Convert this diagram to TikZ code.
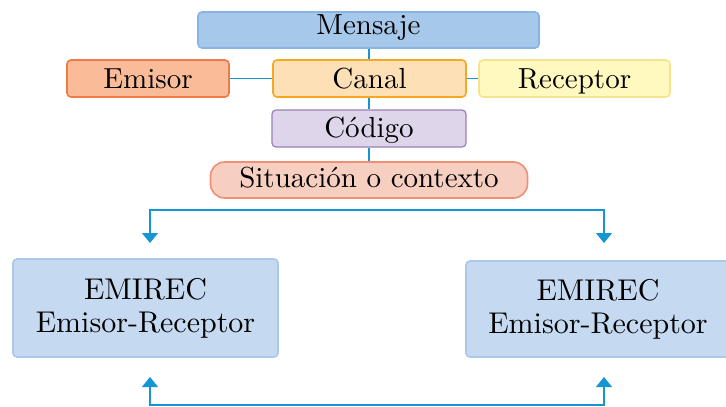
\documentclass[tikz,border=0pt]{standalone}
\usepackage{fontspec}
\setmainfont{lmroman10-regular.otf}
\usetikzlibrary{arrows.meta}
\definecolor{linec}{RGB}{20,150,210}
\definecolor{mensF}{RGB}{166,201,235}\definecolor{mensD}{RGB}{135,180,226}
\definecolor{emiF}{RGB}{249,187,152}\definecolor{emiD}{RGB}{238,122,72}
\definecolor{canF}{RGB}{253,224,182}\definecolor{canD}{RGB}{247,168,32}
\definecolor{recF}{RGB}{255,249,192}\definecolor{recD}{RGB}{244,228,142}
\definecolor{codF}{RGB}{222,213,235}\definecolor{codD}{RGB}{152,127,182}
\definecolor{sitF}{RGB}{246,207,192}\definecolor{sitD}{RGB}{240,142,122}
\definecolor{emrF}{RGB}{197,218,241}\definecolor{emrD}{RGB}{170,200,233}
\begin{document}
\begin{tikzpicture}[x=1pt,y=-1pt,
  box/.style={rectangle,rounded corners=4pt,line width=1.6pt,inner sep=0pt,
    font=\fontsize{29}{31}\selectfont,text depth=7pt},
  big/.style={box,align=center,text height=,text depth=,font=\fontsize{30}{33}\selectfont},
  conn/.style={draw=linec,line width=1.2pt},
  arr/.style={conn,{Triangle[length=10pt,width=16pt]}-{Triangle[length=10pt,width=16pt]}}]
\useasboundingbox (0,0) rectangle (726,407);
\node[box,fill=mensF,draw=mensD,text height=15pt,minimum width=341pt,minimum height=36pt] (mens) at (368.5,30) {Mensaje};
\node[box,fill=emiF,draw=emiD,text height=27pt,minimum width=162pt,minimum height=37pt] (emi) at (148,78.5) {Emisor};
\node[box,fill=canF,draw=canD,text height=27pt,minimum width=193pt,minimum height=37pt] (can) at (369.5,78.5) {Canal};
\node[box,fill=recF,draw=recD,text height=27pt,minimum width=191pt,minimum height=37pt] (rec) at (574.5,78.5) {Receptor};
\node[box,fill=codF,draw=codD,line width=1.2pt,text height=24pt,minimum width=194pt,minimum height=37pt] (cod) at (369,128.5) {Código};
\node[box,fill=sitF,draw=sitD,rounded corners=14pt,text height=21pt,minimum width=317pt,minimum height=36pt] (sit) at (369,180) {Situación o contexto};
\node[big,fill=emrF,draw=emrD,minimum width=265pt,minimum height=98pt] (emrL) at (145.5,308) {EMIREC\\Emisor-Receptor};
\node[big,fill=emrF,draw=emrD,minimum width=264pt,minimum height=96pt] (emrR) at (598,309) {EMIREC\\Emisor-Receptor};
\draw[conn] (can.north -| sit.north) -- (mens.south -| sit.north);
\draw[conn] (can.south -| sit.north) -- (cod.north -| sit.north);
\draw[conn] (cod.south -| sit.north) -- (sit.north);
\draw[conn] (emi.east) -- (can.west);
\draw[conn] (can.east) -- (rec.west);
\coordinate (a1) at (150,243);
\coordinate (a2) at (604,243);
\coordinate (b1) at (150,377);
\coordinate (b2) at (604,377);
\draw[arr] (a1) -- (150,210) -- (604,210) -- (a2);
\draw[arr] (b1) -- (150,405) -- (604,405) -- (b2);
\end{tikzpicture}
\end{document}
